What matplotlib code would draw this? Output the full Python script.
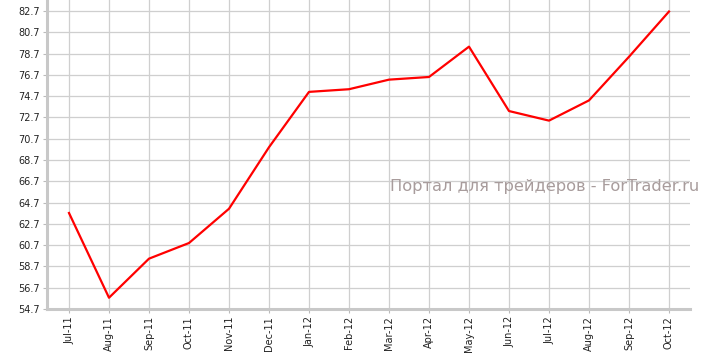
import matplotlib
matplotlib.use("Agg")
import matplotlib.pyplot as plt

months = ["Jul-11", "Aug-11", "Sep-11", "Oct-11", "Nov-11", "Dec-11", "Jan-12", "Feb-12",
          "Mar-12", "Apr-12", "May-12", "Jun-12", "Jul-12", "Aug-12", "Sep-12", "Oct-12"]
values = [63.72, 55.76, 59.43, 60.9, 64.12, 69.9, 75.1, 75.35,
          76.25, 76.5, 79.35, 73.3, 72.4, 74.3, 78.4, 82.65]
yticks = [54.7, 56.7, 58.7, 60.7, 62.7, 64.7, 66.7, 68.7, 70.7, 72.7, 74.7, 76.7, 78.7, 80.7, 82.7]

W, H = 707, 354
fig = plt.figure(figsize=(W / 100, H / 100), dpi=100)
ax = fig.add_axes([47 / W, 45 / H, (690 - 47) / W, (309 - 0) / H])

x = list(range(len(months)))
ax.plot(x, values, color="#ff0000", linewidth=1.6, zorder=3)

ax.set_xlim(-0.55, 15.525)
ax.set_ylim(54.7, 54.7 + 309 / 10.643)
ax.set_yticks(yticks)
ax.set_yticklabels([f"{v:.1f}" for v in yticks], fontsize=7, color="#222222")
ax.set_xticks(x)
ax.set_xticklabels(months, rotation=90, fontsize=7, color="#222222")

ax.grid(True, color="#cfcfcf", linewidth=0.9)
ax.set_axisbelow(True)
for s in ["top", "right"]:
    ax.spines[s].set_visible(False)
for s in ["left", "bottom"]:
    ax.spines[s].set_color("#c8c8c8")
    ax.spines[s].set_linewidth(2.2)
ax.tick_params(axis="both", length=3, width=0.8, color="#bbbbbb", pad=2)

fig.text(390 / W, 1 - 187 / H, "Портал для трейдеров - ForTrader.ru", fontsize=11.7,
         color="#a89c9c", ha="left", va="center")

fig.savefig("out.png", dpi=100, facecolor="white")
